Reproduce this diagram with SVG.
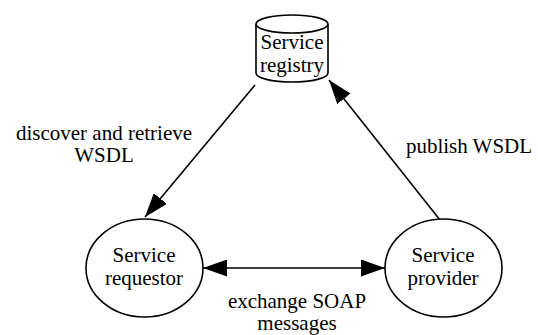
<svg xmlns="http://www.w3.org/2000/svg" width="538" height="335" viewBox="0 0 538 335">
<style>
text { font-family: "Liberation Serif", "Times New Roman", serif; font-size: 21px; fill: #000; text-anchor: middle; }
.shape { fill: #fff; stroke: #000; stroke-width: 1.6; }
.edge { fill: none; stroke: #000; stroke-width: 1.6; }
</style>
<defs>
<marker id="arrow" viewBox="0 0 24 17" refX="24" refY="8.5" markerWidth="24" markerHeight="17" markerUnits="userSpaceOnUse" orient="auto-start-reverse">
<path d="M0,0 L24,8.5 L0,17 Z" fill="#000"/>
</marker>
</defs>
<rect width="538" height="335" fill="#fff"/>
<g id="connectors">
<path class="edge" d="M255,85 L145,217" marker-end="url(#arrow)"/>
<path class="edge" d="M440,220 L329,80" marker-end="url(#arrow)"/>
<path class="edge" d="M203,268 L385,268" marker-start="url(#arrow)" marker-end="url(#arrow)"/>
</g>
<g id="registry">
<path class="shape" d="M256,24 L256,73 A36,9 0 0 0 328,73 L328,24"/>
<ellipse class="shape" cx="292" cy="24" rx="36" ry="9"/>
<text x="292" y="49">Service</text>
<text x="292" y="72">registry</text>
</g>
<g id="requestor">
<ellipse class="shape" cx="144.5" cy="268" rx="58.5" ry="49"/>
<text x="144" y="262">Service</text>
<text x="144" y="285">requestor</text>
</g>
<g id="provider">
<ellipse class="shape" cx="443.5" cy="268" rx="58.5" ry="49"/>
<text x="443" y="262">Service</text>
<text x="443" y="285">provider</text>
</g>
<g id="labels">
<text x="104" y="140">discover and retrieve</text>
<text x="104" y="162">WSDL</text>
<text x="469" y="153">publish WSDL</text>
<text x="297" y="308">exchange SOAP</text>
<text x="297" y="330">messages</text>
</g>
</svg>
